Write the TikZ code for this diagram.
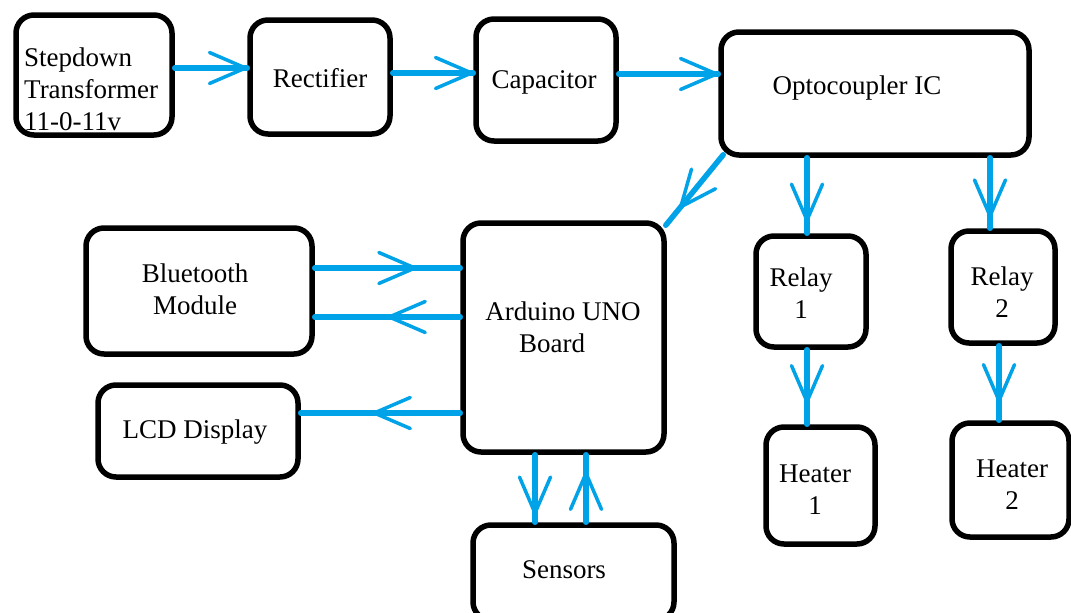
\documentclass[tikz,border=0pt]{standalone}
\usepackage{fontspec}
\setmainfont{Liberation Serif}
\newfontfamily\tnr{Liberation Serif}
\usetikzlibrary{arrows.meta,decorations.markings}
\definecolor{pblue}{RGB}{0,162,232}
\tikzset{
  box/.style={draw=black, line width=5.5pt, rounded corners=18pt, inner sep=0pt},
  txt/.style={font=\tnr\fontsize{27}{32}\selectfont, inner sep=0pt, align=center},
  conn/.style={draw=pblue, line width=5.5pt, line cap=round},
  vtip/.tip={Straight Barb[length=36pt, width=31pt, line width=3.5pt, round]},
  tipat/.style={postaction={decorate, decoration={markings, mark=at position #1 with {\arrow[pblue]{vtip}}}}},
}
\begin{document}
\begin{tikzpicture}[x=1pt,y=-1pt]
\path[use as bounding box, clip] (0,0) rectangle (1071,613);
\fill[white] (0,0) rectangle (1071,613);

% boxes
\node[box, minimum width=156pt, minimum height=120pt] (step) at (94,75) {};
\node[box, minimum width=140pt, minimum height=114pt] (rect) at (320,77) {};
\node[box, minimum width=140pt, minimum height=122pt] (cap) at (546,80) {};
\node[box, minimum width=308pt, minimum height=123pt] (opto) at (875,93.5) {};
\node[box, minimum width=110pt, minimum height=111pt] (relay1) at (811,291.5) {};
\node[box, minimum width=104pt, minimum height=112pt] (relay2) at (1003,287) {};
\node[box, minimum width=109pt, minimum height=117pt] (heat1) at (820.5,485.5) {};
\node[box, minimum width=117pt, minimum height=114pt] (heat2) at (1010.5,480) {};
\node[box, minimum width=226pt, minimum height=126pt] (bt) at (199,291) {};
\node[box, minimum width=200pt, minimum height=92pt] (lcd) at (198,431) {};
\node[box, minimum width=201pt, minimum height=229pt] (ard) at (563.5,337.5) {};
\node[box, minimum width=201pt, minimum height=95pt] (sens) at (573.5,572.5) {};

% texts
\node[txt, align=left, anchor=west] (stept) at (24,89) {Stepdown\\Transformer\\11-0-11v};
\node[txt] (rectt) at (320,78) {Rectifier};
\node[txt] (capt) at (544,82) {Capacitor};
\node[txt] (optot) at (857,88) {Optocoupler IC};
\node[txt] (relay1t) at (801,293.5) {Relay\\1};
\node[txt] (relay2t) at (1002,292.5) {Relay\\2};
\node[txt] (heat1t) at (815,490) {Heater\\1};
\node[txt] (heat2t) at (1012,485) {Heater\\2};
\node[txt] (btt) at (195,289) {Bluetooth\\Module};
\node[txt] (lcdt) at (195,432) {LCD Display};
\node[txt] (ardt) at (563,327) {Arduino UNO\\Board\hspace*{22pt}};
\node[txt] (senst) at (564,570) {Sensors};

% connectors
\draw[conn, tipat=1] ([yshift=7pt]step.east) -- ([yshift=9pt]rect.west);
\draw[conn, tipat=1] ([yshift=4pt]rect.east) -- ([yshift=7pt]cap.west);
\draw[conn, tipat=1] ([yshift=6pt]cap.east) -- ([yshift=19.5pt]opto.west);
\draw[conn, tipat=0.85] ([xshift=-68pt]opto.south) -- ([xshift=-4pt]relay1.north);
\draw[conn, tipat=0.85] ([xshift=115pt]opto.south) -- ([xshift=-13pt]relay2.north);
\draw[conn, tipat=0.72] ([xshift=-4pt]relay1.south) -- ([xshift=-13.5pt]heat1.north);
\draw[conn, tipat=0.76] ([xshift=-4pt]relay2.south) -- ([xshift=-11.5pt]heat2.north);
\draw[conn, tipat=0.76] ([shift={(5pt,3pt)}]opto.south west) -- ([shift={(-1pt,-5pt)}]ard.north east);
\draw[conn, tipat=0.70] ([yshift=23pt]bt.east) -- ([yshift=69.5pt]ard.west);
\draw[conn, tipat=0.50] ([yshift=20.5pt]ard.west) -- ([yshift=-26pt]bt.east);
\draw[conn, tipat=0.55] ([yshift=-75.5pt]ard.west) -- ([yshift=18pt]lcd.east);
\draw[conn, tipat=0.89] ([xshift=-28.5pt]ard.south) -- ([xshift=-38.5pt]sens.north);
\draw[conn, tipat=0.75] ([xshift=12.5pt]sens.north) -- ([xshift=22.5pt]ard.south);
\end{tikzpicture}
\end{document}
